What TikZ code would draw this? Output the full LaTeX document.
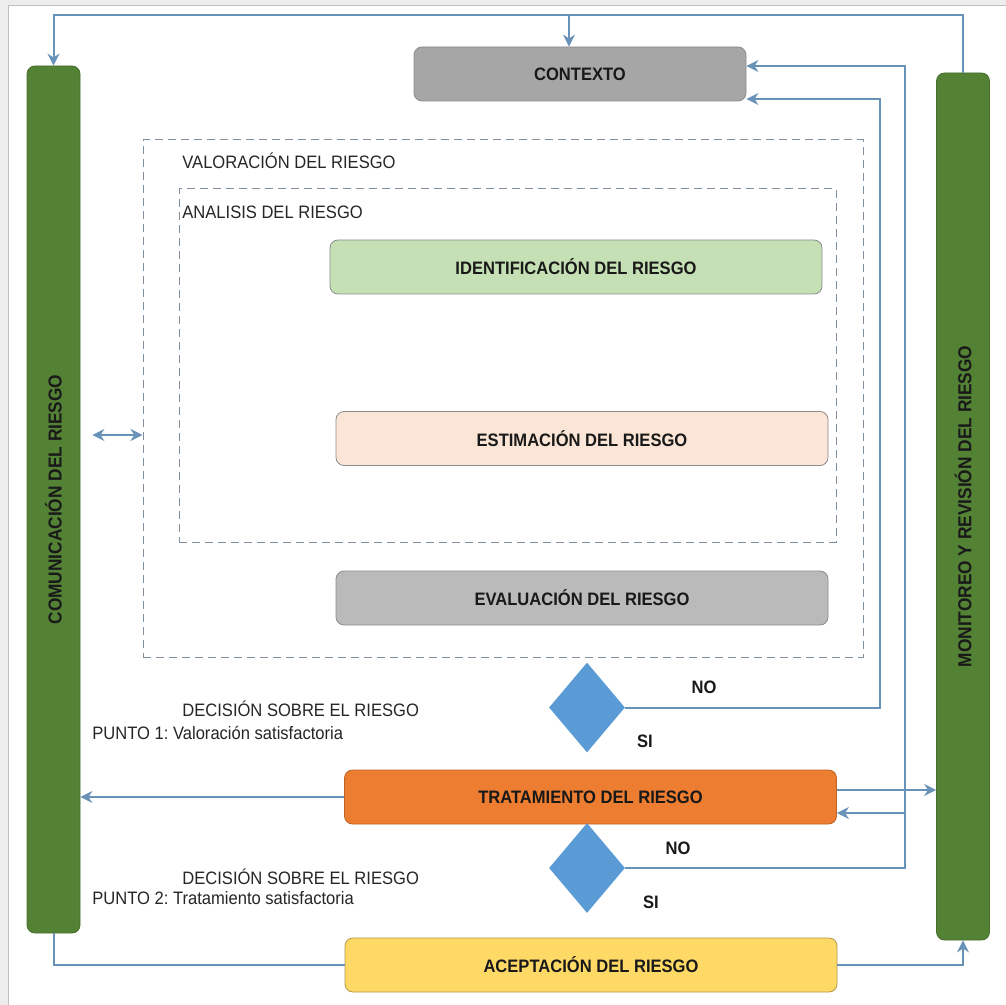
\documentclass[tikz,border=0pt]{standalone}
\usepackage{fontspec}
\setmainfont[FakeStretch=0.92]{Liberation Sans}
\usetikzlibrary{shapes.geometric,arrows.meta}
\frenchspacing

\definecolor{barGreen}{RGB}{84,130,53}
\definecolor{ctxGray}{RGB}{166,166,166}
\definecolor{idGreen}{RGB}{197,224,180}
\definecolor{estPeach}{RGB}{251,229,214}
\definecolor{evGray}{RGB}{186,186,186}
\definecolor{tratOrange}{RGB}{237,125,49}
\definecolor{acepYellow}{RGB}{255,217,102}
\definecolor{decBlue}{RGB}{91,155,213}
\definecolor{flowBlue}{RGB}{104,146,184}
\definecolor{dashGray}{RGB}{128,144,160}

\begin{document}
\begin{tikzpicture}[x=0.5pt,y=-0.5pt,
    box/.style={draw=black!45, rounded corners=4pt, minimum width=246pt, minimum height=27pt,
        inner sep=0pt, font=\fontsize{9}{11}\selectfont\bfseries, text=black!90},
    bar/.style={fill=barGreen, draw=barGreen!85!black, rounded corners=4pt, minimum width=26.5pt,
        minimum height=433.5pt, inner sep=0pt, font=\fontsize{9.4}{11}\selectfont\bfseries, text=black!90},
    dashbox/.style={draw=dashGray, dash pattern=on 4pt off 2.5pt, line width=0.5pt, inner sep=0pt},
    dec/.style={diamond, fill=decBlue, minimum width=38pt, minimum height=45pt, inner sep=0pt},
    lbl/.style={inner sep=0pt, font=\fontsize{9}{11}\selectfont, text=black!85},
    yesno/.style={inner sep=0pt, font=\fontsize{9}{11}\selectfont\bfseries, text=black!90},
    flow/.style={draw=flowBlue, line width=1pt},
    >={Stealth[length=6pt,width=6pt]}
]
    % frame
    \useasboundingbox (0,0) rectangle (1006,1005);
    \fill[black!7] (0,0) rectangle (1006,1005);
    \fill[white] (8,6) rectangle (1006,1005);
    \draw[black!25, line width=0.5pt] (8,1005) -- (8,6) -- (1006,6);

    % side bars
    \node[bar] (comm) at (53.5,499.5) {\rotatebox{90}{COMUNICACIÓN DEL RIESGO}};
    \node[bar] (monit) at (963,506.5) {\rotatebox{90}{MONITOREO Y REVISIÓN DEL RIESGO}};

    % dashed groups
    \node[dashbox, minimum width=360pt, minimum height=258.5pt] (valbox) at (503,398.5) {};
    \node[dashbox, minimum width=328.5pt, minimum height=176.5pt] (anabox) at (507.5,365.5) {};
    \node[lbl, anchor=west] (valtxt) at (182,161) {VALORACIÓN DEL RIESGO};
    \node[lbl, anchor=west] (anatxt) at (182,212) {ANALISIS DEL RIESGO};

    % steps
    \node[box, fill=ctxGray, minimum width=166pt] (ctx) at (580,74) {CONTEXTO};
    \node[box, fill=idGreen] (ident) at (576,267) {IDENTIFICACIÓN DEL RIESGO};
    \node[box, fill=estPeach] (estim) at (582,438.5) {ESTIMACIÓN DEL RIESGO};
    \node[box, fill=evGray] (evalu) at (582,598) {EVALUACIÓN DEL RIESGO};
    \node[box, fill=tratOrange, draw=tratOrange!80!black] (trat) at (590.5,797) {TRATAMIENTO DEL RIESGO};
    \node[box, fill=acepYellow, draw=acepYellow!70!black] (acep) at (591,965) {ACEPTACIÓN DEL RIESGO};

    % decisions
    \node[dec] (d1) at (587,707.5) {};
    \node[dec] (d2) at (587,868) {};
    \node[yesno] (no1) at (704,687) {NO};
    \node[yesno] (si1) at (645,741) {SI};
    \node[yesno] (no2) at (678,848) {NO};
    \node[yesno] (si2) at (651,902) {SI};
    \node[lbl, anchor=west] (dec1) at (182,709) {DECISIÓN SOBRE EL RIESGO};
    \node[lbl, anchor=west] (pto1) at (92,733) {PUNTO 1: Valoración satisfactoria};
    \node[lbl, anchor=west] (dec2) at (182,877) {DECISIÓN SOBRE EL RIESGO};
    \node[lbl, anchor=west] (pto2) at (92,898) {PUNTO 2: Tratamiento satisfactoria};

    % connectors
    \draw[flow,->] (monit.north) -- ++(0,-58) -| (comm.north);
    \coordinate (tj) at (569,15);
    \draw[flow,->] (tj) -- (tj |- ctx.north);
    \draw[flow,->] (d1.east) -| (880,99) -- (ctx.east |- 0,99);
    \draw[flow,->] (d2.east) -| (905,66) -- (ctx.east |- 0,66);
    \coordinate (tb) at (905,813);
    \draw[flow,->] (tb) -- (trat.east |- tb);
    \draw[flow,->] (trat.east |- 0,790) -- (monit.west |- 0,790);
    \draw[flow,->] (trat.west) -- (comm.east |- trat.west);
    \draw[flow,<->, shorten <=6pt] (comm.east |- 0,435) -- (valbox.west |- 0,435);
    \draw[flow] (comm.south) |- (acep.west);
    \draw[flow,->] (acep.east) -| (monit.south);

\end{tikzpicture}
\end{document}
